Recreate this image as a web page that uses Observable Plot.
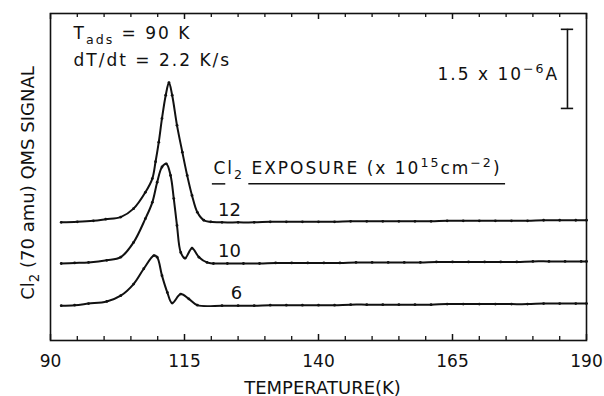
<!DOCTYPE html>
<html>
<head>
<meta charset="utf-8">
<script src="https://cdn.jsdelivr.net/npm/d3@7"></script>
<script src="https://cdn.jsdelivr.net/npm/@observablehq/plot@0.6"></script>
<style>
  html, body { margin: 0; padding: 0; background: #fff; }
</style>
</head>
<body>
<script>
// ---- data (temperature in K, signal in 1e-6 A above each curve's baseline) ----
const exposures = [12, 10, 6];
const baselines = [2.24, 1.46, 0.66];   // vertical offsets of the stacked traces (1e-6 A)

const temps12 = [92, 95, 98, 100.3, 103.1, 105.5, 107.7, 109.0, 109.6, 110.2, 110.8, 111.5, 112.1, 112.7, 113.6, 114.6, 115.5, 116.4, 117.4, 118.6, 119.9,
  122, 125, 128, 131, 134, 137, 140, 143, 146, 149, 152, 155, 158, 161, 164, 167, 170, 173, 176, 179, 182, 185, 188, 190];
const signal12 = [0, 0.01, 0.03, 0.06, 0.10, 0.26, 0.57, 0.83, 1.15, 1.52, 1.97, 2.41, 2.65, 2.41, 1.84, 1.33, 0.89, 0.51, 0.19, 0.04, 0.01,
  0, 0, 0, 0.01, 0.01, 0.01, 0.01, 0.01, 0.02, 0.02, 0.02, 0.02, 0.02, 0.02, 0.03, 0.03, 0.03, 0.03, 0.03, 0.03, 0.04, 0.04, 0.04, 0.04];

const temps10 = [92, 94.5, 97.1, 100.5, 103.1, 105.5, 107.7, 109.0, 109.9, 110.8, 111.6, 112.4, 113.0, 113.6, 114.3, 115.1, 116.4, 117.7, 119.2, 120.4,
  123, 126, 129, 132, 135, 138, 141, 144, 147, 150, 153, 156, 159, 162, 165, 168, 171, 174, 177, 180, 183, 186, 189, 190];
const signal10 = [0, 0.01, 0.02, 0.06, 0.12, 0.40, 0.85, 1.16, 1.54, 1.83, 1.89, 1.67, 1.23, 0.72, 0.21, 0.10, 0.29, 0.12, 0.02, 0,
  0, 0, 0, 0.01, 0.01, 0.01, 0.01, 0.01, 0.02, 0.02, 0.02, 0.02, 0.02, 0.03, 0.03, 0.03, 0.03, 0.03, 0.03, 0.04, 0.04, 0.04, 0.04, 0.04];

const temps6 = [92, 94.5, 97.1, 100.5, 103.1, 105.5, 107.4, 109.3, 109.9, 110.8, 111.8, 112.7, 114.3, 115.8, 117.4,
  122, 125, 128, 131, 134, 137, 140, 143, 146, 149, 152, 155, 158, 161, 164, 167, 170, 173, 176, 179, 182, 185, 188, 190];
const signal6 = [0, 0.01, 0.04, 0.08, 0.19, 0.41, 0.70, 0.95, 0.92, 0.57, 0.25, 0.05, 0.22, 0.13, 0.01,
  0, 0, 0, 0.01, 0.01, 0.01, 0.01, 0.01, 0.02, 0.02, 0.02, 0.02, 0.02, 0.02, 0.03, 0.03, 0.03, 0.03, 0.03, 0.03, 0.04, 0.04, 0.04, 0.04];

const xTicks = [90, 115, 140, 165, 190];
const xMinorTicks = [95, 100, 105, 110, 120, 125, 130, 135, 145, 150, 155, 160, 170, 175, 180, 185];
const labelT = [123.4, 123.4, 124.7];

const annotationTexts = ["T_{ads} = 90 K", "dT/dt = 2.2 K/s", "1.5 x 10^{\u22126}A", "Cl_{2} EXPOSURE (x 10^{15}cm^{\u22122})"];

// ---- table built from the arrays ----
const seriesTemps = [temps12, temps10, temps6];
const seriesSignal = [signal12, signal10, signal6];
const rows = [];
exposures.forEach((e, i) => {
  seriesTemps[i].forEach((t, j) => rows.push({exposure: e, T: t, v: seriesSignal[i][j] + baselines[i]}));
});

const scaleBar = {T: 186.45, bottom: 4.40, length: 1.5, halfWidth: 1.15};
const ink = "#111";

const chart = Plot.plot({
  width: 604,
  height: 396,
  marginLeft: 50,
  marginRight: 18,
  marginTop: 13,
  marginBottom: 56,
  style: {fontFamily: "DejaVu Sans", fontSize: "17px", background: "#fff", color: ink},
  x: {domain: [90, 190], ticks: xTicks, label: null},
  y: {domain: [0, 6.2], axis: null},
  marks: [
    Plot.frame({stroke: ink, strokeWidth: 1.6}),
    // inward ticks bottom and top
    Plot.tickX(xTicks, {x: d => d, insetTop: 321, stroke: ink, strokeWidth: 1.5}),
    Plot.tickX(xMinorTicks, {x: d => d, insetTop: 323, stroke: ink, strokeWidth: 1.3}),
    Plot.tickX(xTicks, {x: d => d, insetBottom: 321, stroke: ink, strokeWidth: 1.5}),
    Plot.tickX(xMinorTicks, {x: d => d, insetBottom: 323, stroke: ink, strokeWidth: 1.3}),
    Plot.axisX({ticks: xTicks, tickSize: 0, tickPadding: 14, fontSize: 17, tickFormat: d => String(d), label: null}),
    Plot.text(["TEMPERATURE(K)"], {frameAnchor: "bottom", text: d => d, dy: 53, dx: 4, lineAnchor: "bottom", fontSize: 18, fill: ink}),
    Plot.text(["Cl_{2} (70 amu) QMS SIGNAL"], {frameAnchor: "left", text: d => d, rotate: -90, dx: -17, dy: 6, lineAnchor: "bottom", textAnchor: "middle", fontSize: 18, fill: ink}),
    // traces
    Plot.line(rows, {x: "T", y: "v", z: "exposure", curve: "catmull-rom", stroke: ink, strokeWidth: 2}),
    Plot.dot(rows, {x: "T", y: "v", r: 1.4, fill: ink, stroke: null}),
    // exposure labels
    Plot.text(exposures, {x: (d, i) => labelT[i], y: (d, i) => baselines[i] + 0.13, text: d => String(d), lineAnchor: "bottom", textAnchor: "middle", fontSize: 18, fill: ink}),
    // annotations
    Plot.text([annotationTexts[0]], {x: 94.3, y: 5.71, text: d => d, textAnchor: "start", lineAnchor: "bottom", fontSize: 17, fill: ink}),
    Plot.text([annotationTexts[1]], {x: 94.3, y: 5.2, text: d => d, textAnchor: "start", lineAnchor: "bottom", fontSize: 17, fill: ink}),
    Plot.text([annotationTexts[2]], {x: 162.2, y: 4.93, text: d => d, textAnchor: "start", lineAnchor: "bottom", fontSize: 17, fill: ink}),
    Plot.text([annotationTexts[3]], {x: 120.4, y: 3.15, text: d => d, textAnchor: "start", lineAnchor: "bottom", fontSize: 17, fill: ink}),
    // underlines of the legend heading
    Plot.ruleY([2.97], {x1: 120.2, x2: 122.7, stroke: ink, strokeWidth: 1.5}),
    Plot.ruleY([2.97], {x1: 127.0, x2: 174.9, stroke: ink, strokeWidth: 1.5}),
    // scale bar
    Plot.ruleX([scaleBar.T], {y1: scaleBar.bottom, y2: scaleBar.bottom + scaleBar.length, stroke: ink, strokeWidth: 1.6}),
    Plot.ruleY([scaleBar.bottom, scaleBar.bottom + scaleBar.length], {x1: scaleBar.T - scaleBar.halfWidth, x2: scaleBar.T + scaleBar.halfWidth, stroke: ink, strokeWidth: 1.6})
  ]
});

document.body.appendChild(chart);

// turn _{..} and ^{..} into sub/superscript tspans; widen annotation spacing
const NS = "http://www.w3.org/2000/svg";
chart.querySelectorAll("text").forEach(t => {
  const s = t.textContent;
  if (annotationTexts.includes(s)) t.setAttribute("letter-spacing", "2");
  if (!/[_^]\{/.test(s)) return;
  const fs = parseFloat(getComputedStyle(t).fontSize) || 17;
  while (t.firstChild) t.removeChild(t.firstChild);
  const add = (str, size, dy) => {
    const ts = document.createElementNS(NS, "tspan");
    ts.textContent = str;
    if (size) ts.setAttribute("font-size", size);
    if (dy) ts.setAttribute("dy", dy);
    t.appendChild(ts);
  };
  const re = /([_^])\{([^}]*)\}/g;
  let last = 0, m, pending = 0;
  while ((m = re.exec(s))) {
    if (m.index > last) { add(s.slice(last, m.index), null, pending); pending = 0; }
    const shift = m[1] === "_" ? 0.3 * fs : -0.45 * fs;
    add(m[2], 0.74 * fs, shift + pending);
    pending = -shift;
    last = re.lastIndex;
  }
  if (last < s.length) add(s.slice(last), null, pending);
});
</script>
</body>
</html>
